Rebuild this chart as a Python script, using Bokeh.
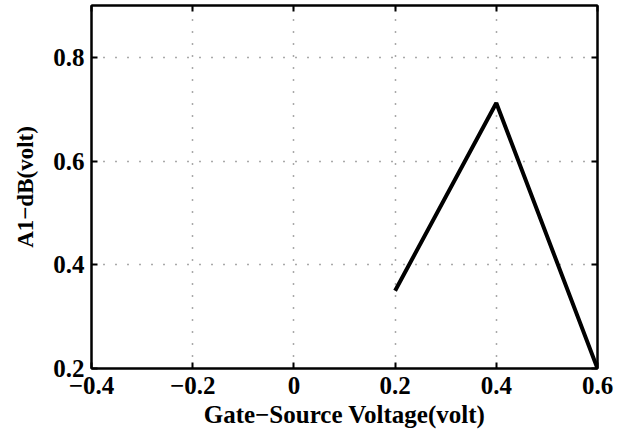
from bokeh.plotting import figure
from bokeh.models import LinearAxis, Range1d, FixedTicker
from bokeh.embed import file_html
from bokeh.resources import INLINE

# data
vgs = [0.2, 0.4, 0.6]
a1_db = [0.35, 0.712, 0.2]
x_ticks = [-0.4, -0.2, 0, 0.2, 0.4, 0.6]
y_ticks = [0.2, 0.4, 0.6, 0.8]
x_label = "Gate\u2212Source Voltage(volt)"
y_label = "A1\u2212dB(volt)"

FONT = "Liberation Serif"

p = figure(width=622, height=439, output_backend="svg", toolbar_location=None,
           x_range=Range1d(-0.4, 0.6), y_range=Range1d(0.2, 0.9),
           min_border_left=91, min_border_right=25, min_border_top=5, min_border_bottom=71)
p.background_fill_color = "white"
p.border_fill_color = "white"
p.outline_line_color = "black"
p.outline_line_width = 2

p.line(vgs, a1_db, line_color="black", line_width=4)

def style_axis(ax, ticks, labels=True):
    ax.ticker = FixedTicker(ticks=ticks)
    ax.axis_line_color = "black"
    ax.axis_line_width = 2
    ax.major_tick_in = 6
    ax.major_tick_out = 0
    ax.major_tick_line_width = 2
    ax.minor_tick_line_color = None
    ax.major_label_text_font = FONT
    ax.major_label_text_font_style = "bold"
    ax.major_label_text_font_size = "25px"
    ax.major_label_text_color = "black"
    if not labels:
        ax.major_label_text_font_size = "0px"
        ax.major_label_text_alpha = 0
        ax.major_label_standoff = 0

p.add_layout(LinearAxis(), "right")
p.add_layout(LinearAxis(), "above")
style_axis(p.below[0], x_ticks)
style_axis(p.above[0], x_ticks, labels=False)
style_axis(p.left[0], y_ticks)
style_axis(p.right[0], y_ticks, labels=False)

p.below[0].major_label_overrides = {-0.4: "\u22120.4", -0.2: "\u22120.2", 0: "0", 0.2: "0.2", 0.4: "0.4", 0.6: "0.6"}
p.below[0].major_label_standoff = 8
p.left[0].major_label_standoff = 7

p.below[0].axis_label = x_label
p.left[0].axis_label = y_label
for ax, size in ((p.below[0], "25px"), (p.left[0], "23px")):
    ax.axis_label_text_font = FONT
    ax.axis_label_text_font_style = "bold"
    ax.axis_label_text_font_size = size
    ax.axis_label_text_color = "black"
p.below[0].axis_label_standoff = 4
p.left[0].axis_label_standoff = 12

p.xgrid[0].ticker = FixedTicker(ticks=x_ticks)
p.ygrid[0].ticker = FixedTicker(ticks=y_ticks)
for g in (p.xgrid[0], p.ygrid[0]):
    g.grid_line_color = "#555555"
    g.grid_line_width = 1.5
    g.grid_line_dash = "1 11"

open("out.html", "w").write(file_html(p, INLINE))
